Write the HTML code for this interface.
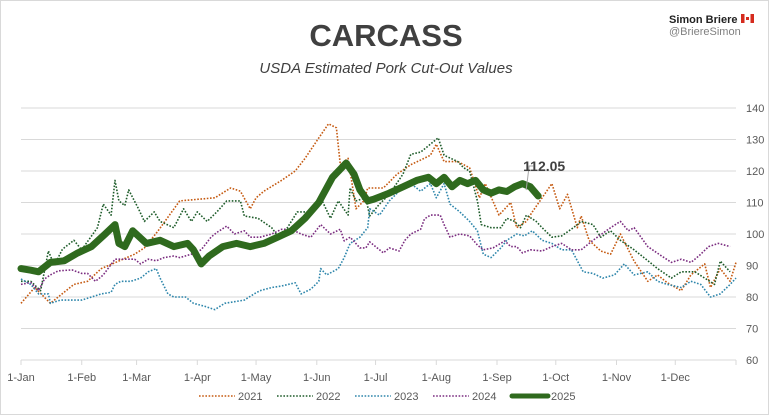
<!DOCTYPE html>
<html><head><meta charset="utf-8"><style>
body{margin:0;background:#fff;}
#wrap{position:relative;width:769px;height:415px;overflow:hidden;font-family:"Liberation Sans",sans-serif;border:1px solid #d9d9d9;box-sizing:border-box;}
</style></head><body>
<div id="wrap">
<svg id="svg" width="769" height="415" xmlns="http://www.w3.org/2000/svg">
<text x="385" y="45" text-anchor="middle" font-size="31" font-weight="bold" fill="#404040">CARCASS</text>
<text x="385" y="72" text-anchor="middle" font-size="15" font-style="italic" fill="#404040">USDA Estimated Pork Cut-Out Values</text>
<text x="668" y="22" font-size="11" font-weight="bold" fill="#222">Simon Briere</text>
<g><rect x="740" y="13" width="3.5" height="9" fill="#d52b1e"/><rect x="743.5" y="13" width="6" height="9" fill="#fff"/><rect x="749.5" y="13" width="3.5" height="9" fill="#d52b1e"/><rect x="745" y="16" width="3" height="3" fill="#d52b1e"/></g>
<text x="668" y="34" font-size="11" fill="#808080">@BriereSimon</text>
<g id="grid"></g><g id="ticks"></g><g id="series"></g><g id="legend"></g>
</svg>
</div>
<script>
const yTicks=[60,70,80,90,100,110,120,130,140];
const monthLabels=["1-Jan","1-Feb","1-Mar","1-Apr","1-May","1-Jun","1-Jul","1-Aug","1-Sep","1-Oct","1-Nov","1-Dec"];
const monthDays=[0,31,59,90,120,151,181,212,243,273,304,334];
const seriesNames=["2021","2022","2023","2024","2025"];
const days2021=[0,7,15,27,34,41,58,63,70,81,99,107,112,117,120,124,133,140,145,152,157,161,163,167,171,175,177,185,192,199,209,212,216,223,229,234,237,244,250,253,258,261,266,271,275,279,284,286,290,296,301,306,313,320,325,330,337,342,349,352,357,362,365];
const vals2021=[78,83,78,84,85,89,93.6,95.6,101,110.5,111.5,114.6,113.6,108,111.5,113.6,117,120,124,130.5,135,133.7,122,124,108,110.5,114.6,114.6,119,122,125,128.5,123,123,121,111.5,116,106,110,102,104,107,111.5,116,108,112.6,102,105.7,98,94.6,93.6,100,91.4,85,87,84.5,82,87,90.5,83,89,85,91];
const days2022=[0,5,10,14,17,21,22,27,31,39,42,46,48,50,53,55,60,63,68,71,78,83,87,90,95,100,105,112,114,121,128,131,136,141,148,153,158,162,167,168,171,176,178,183,188,195,199,204,209,213,216,223,226,229,233,235,240,245,248,252,255,258,263,266,271,276,282,286,292,296,301,306,313,318,325,332,337,344,349,354,357,362];
const vals2022=[85,85,82,94.6,90,95,95.6,98,95,102,109.5,106,117,110.5,109,114,108,104,107,104,102,108,104,107,104,107,110.5,110.5,105.7,105,102,99.4,102,107,107,111.5,105,110.5,106,114.6,110.5,111.5,105.7,109.5,112.6,119,125.3,126,128.5,130.5,125,123,121,120,110.5,103,102,102,105,104,102,106,104,102,99,99.4,102,104,103,99,101,98,95,92.5,89,86,88,88,86,84,91.4,88];
const days2023=[0,5,9,14,15,20,26,31,36,41,46,48,51,56,61,65,69,71,75,78,84,88,94,99,104,109,114,119,122,128,133,140,143,148,152,153,156,162,165,168,173,177,178,183,188,193,199,204,209,212,216,219,224,229,233,236,240,245,248,253,257,261,266,271,276,281,287,292,297,303,308,313,320,325,330,337,342,347,352,357,362,365];
const vals2023=[85.7,84,81,81,78,79,79,79,80,81,81.5,84,85,85,86,88,89,86,81,80,80,78,77,76,78,78.5,79,81,82,83,83.5,84.5,81,82.5,85,89,87,89,92.5,97,99,102,108,106,110.5,113.6,116,113.6,116,111.5,116,109.5,107,104,101,93.6,92.5,95.6,98,100,99.4,101,98,97,95,95,88,87.5,86,87,90.5,87,88,85,84,83,85,84,80,81,84,86];
const days2024=[0,5,9,12,15,19,26,31,34,38,42,48,53,58,61,65,69,73,78,81,87,92,97,100,105,109,114,117,122,128,133,138,143,148,153,158,163,165,168,173,176,178,185,188,193,196,199,204,206,209,214,216,219,224,229,233,236,241,247,250,253,256,260,266,271,276,281,286,292,301,306,310,313,320,327,332,337,342,346,351,356,362];
const vals2024=[84,84.6,82,85.7,87,88.3,88.6,87.5,87.5,85,87,92,92,92,90.5,92,91.5,92.5,93,92.5,93.6,95,99,100.5,102.5,100,101,99,99,100,101.5,101.5,100,99,103,100,101.5,97.8,99,95.6,95.6,97.5,94,95.6,94.6,98,100,101.5,104.8,106,106,103,99,100,99.4,96.5,95,95.6,97.8,96,96,94,95,94.6,96,97,95,95,98,102,104,101,102,96,93,91,92,91,93,96,97,96];
const days2025=[0,5,9,15,22,29,36,43,48,50,53,57,64,71,78,85,88,92,96,103,110,117,124,131,138,145,152,159,166,170,173,177,180,184,188,195,202,208,212,216,220,224,228,232,236,240,244,248,252,256,260,264];
const vals2025=[89,88.5,88,91,91.5,94,96,100,103,97,96,101,97,98,96,97,95,90.5,93,96,97,96,97,99,101,105,110,118,122.5,119,114,110.5,111,112,113,115,117,118,116,118,115,117,116,117,114,113,114,113.5,115,116,115,112.05];
const allDays=[days2021,days2022,days2023,days2024,days2025];
const allVals=[vals2021,vals2022,vals2023,vals2024,vals2025];
const colors=["#c55a11","#1e5c2a","#2e86ab","#7b2d80","#2f6a1e"];
const NS="http://www.w3.org/2000/svg";
const x=d=>20+d*(715/365);
const y=v=>107+(140-v)*3.15;
function mk(tag,attrs,parent){const e=document.createElementNS(NS,tag);for(const k in attrs)e.setAttribute(k,attrs[k]);parent.appendChild(e);return e;}
const grid=document.getElementById('grid'),ticks=document.getElementById('ticks'),ser=document.getElementById('series'),leg=document.getElementById('legend');
yTicks.forEach(t=>{
 const l=mk('line',{x1:20,x2:735,y1:y(t),y2:y(t),stroke:'#d9d9d9','stroke-width':1},grid);
 
 
 const tx=mk('text',{x:745,y:y(t)+4,'font-size':11,fill:'#595959'},ticks);
 tx.textContent=t;
 
 
});
monthDays.forEach((d,i)=>{
 const tk=mk('line',{x1:x(d),x2:x(d),y1:359,y2:364,stroke:'#d9d9d9'},ticks);
 
 
 const tx=mk('text',{x:x(d),y:380,'font-size':11,fill:'#595959','text-anchor':'middle'},ticks);
 tx.textContent=monthLabels[i];
 
 
});
const endTick=mk('line',{x1:735,x2:735,y1:359,y2:364,stroke:'#d9d9d9'},ticks);


allVals.forEach((vals,i)=>{
 const ds=allDays[i];
 const pts=vals.map((v,j)=>x(ds[j]).toFixed(1)+','+y(v).toFixed(1)).join(' ');
 const thick=i===4;
 const p=mk('polyline',{points:pts,fill:'none',stroke:colors[i],'stroke-width':thick?7:1.6,'stroke-dasharray':thick?'none':'1.6 1.6','stroke-linejoin':'round','stroke-linecap':thick?'round':'butt'},ser);
 
 
});
const ld=days2025[days2025.length-1], lv=vals2025[vals2025.length-1];
const cl=mk('polyline',{points:`${x(ld)-12},${y(lv)-6} ${x(ld)-9},${y(lv)-30} ${x(ld)-5},${y(lv)-30}`,fill:'none',stroke:'#a6a6a6'},ser);


const lab=mk('text',{x:x(ld)-15,y:y(lv)-25,'font-size':14,'font-weight':'bold',fill:'#404040'},ser);
lab.textContent=lv.toFixed(2);


const legX=[198,276,354,432,511];
seriesNames.forEach((n,i)=>{
 const thick=i===4;
 const l=mk('line',{x1:legX[i],x2:legX[i]+36,y1:395,y2:395,stroke:colors[i],'stroke-width':thick?5:1.6,'stroke-dasharray':thick?'none':'1.6 1.6','stroke-linecap':thick?'round':'butt'},leg);
 
 
 const t=mk('text',{x:legX[i]+39,y:399,'font-size':11,fill:'#595959'},leg);
 t.textContent=n;
 
 
});
</script>
</body></html>
